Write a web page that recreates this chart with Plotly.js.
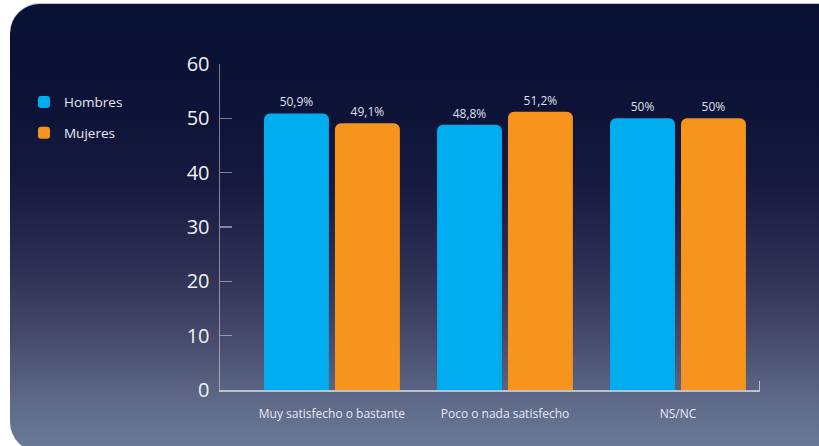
<!DOCTYPE html>
<html>
<head>
<meta charset="utf-8">
<script src="https://cdn.plot.ly/plotly-3.0.1.min.js"></script>
<style>
  html, body { margin: 0; padding: 0; background: #ffffff; width: 819px; height: 446px; overflow: hidden; }
  #bg {
    position: absolute; left: 10px; top: 3px; width: 840px; height: 448px;
    border-radius: 30px;
    border-top: 1px solid #b9bdd8;
    background: linear-gradient(to bottom, #091134 0%, #0c1337 22%, #17193f 40%, #2c2e52 58%, #46496a 74%, #5d6886 88%, #6a7c9a 100%);
  }
  #chart { position: absolute; left: 0; top: 0; width: 819px; height: 446px; }
</style>
</head>
<body>
<div id="bg"></div>
<div id="chart"></div>
<script>
const categories = ["Muy satisfecho o bastante", "Poco o nada satisfecho", "NS/NC"];
const hombres = [50.9, 48.8, 50];
const mujeres = [49.1, 51.2, 50];
const seriesNames = ["Hombres", "Mujeres"];
const yTicks = [0, 10, 20, 30, 40, 50, 60];

function fmt(v) {
  const s = Number.isInteger(v) ? String(v) : v.toFixed(1).replace('.', ',');
  return s + '%';
}

const FONT = '"Open Sans", "Noto Sans", sans-serif';
const textFont = { family: FONT, size: 12, color: '#dfe0ea' };
const X_RANGE = [-0.647, 2.474];

const traces = [
  {
    type: 'bar', name: seriesNames[0], x: categories, y: hombres,
    text: hombres.map(fmt), textposition: 'outside', textfont: textFont,
    cliponaxis: false, marker: { color: '#00adef' }, hoverinfo: 'skip',
    legendgroup: 'h'
  },
  {
    type: 'bar', name: seriesNames[1], x: categories, y: mujeres,
    text: mujeres.map(fmt), textposition: 'outside', textfont: textFont,
    cliponaxis: false, marker: { color: '#f7941d' }, hoverinfo: 'skip',
    legendgroup: 'm'
  },
  // invisible helper trace so the overlay axis (right-end tick) is drawn
  { type: 'scatter', mode: 'markers', x: [0.5], y: [0], xaxis: 'x2', yaxis: 'y',
    marker: { opacity: 0 }, showlegend: false, hoverinfo: 'skip' }
];

const layout = {
  width: 819, height: 446,
  margin: { l: 220, r: 59, t: 64, b: 56 },
  paper_bgcolor: 'rgba(0,0,0,0)',
  plot_bgcolor: 'rgba(0,0,0,0)',
  font: { family: FONT, color: '#e8e9f1' },
  barmode: 'group',
  bargap: 0.18,
  bargroupgap: 0.085,
  barcornerradius: 6,
  showlegend: true,
  legend: {
    x: -0.363, xanchor: 'left', y: 0.93, yanchor: 'top',
    font: { family: FONT, size: 13.5, color: '#e8e9f1' },
    traceorder: 'grouped', tracegroupgap: 10,
    bgcolor: 'rgba(0,0,0,0)'
  },
  xaxis: {
    type: 'category',
    range: X_RANGE,
    showgrid: false, zeroline: false,
    showline: true, linecolor: 'rgba(255,255,255,0.6)', linewidth: 1.5,
    ticks: '', tickfont: { family: FONT, size: 12, color: '#e8e9f1' },
    ticklabelstandoff: 12
  },
  xaxis2: {
    overlaying: 'x', anchor: 'free', position: 0, side: 'top',
    range: [0, 1], autorange: false, type: 'linear',
    tickmode: 'array', tickvals: [0.999],
    ticks: 'outside', ticklen: 9, tickwidth: 1.5,
    tickcolor: 'rgba(255,255,255,0.6)', showticklabels: false,
    showgrid: false, zeroline: false, showline: false
  },
  yaxis: {
    range: [0, 60], tickvals: yTicks,
    showgrid: false, zeroline: false,
    showline: true, linecolor: 'rgba(255,255,255,0.45)', linewidth: 1.5,
    ticks: 'inside', ticklen: 12, tickwidth: 1.5, tickcolor: 'rgba(255,255,255,0.45)',
    tickfont: { family: FONT, size: 20, color: '#eef0f6' },
    ticklabelstandoff: 5
  }
};

Plotly.newPlot('chart', traces, layout, { displayModeBar: false, staticPlot: true });
</script>
</body>
</html>
